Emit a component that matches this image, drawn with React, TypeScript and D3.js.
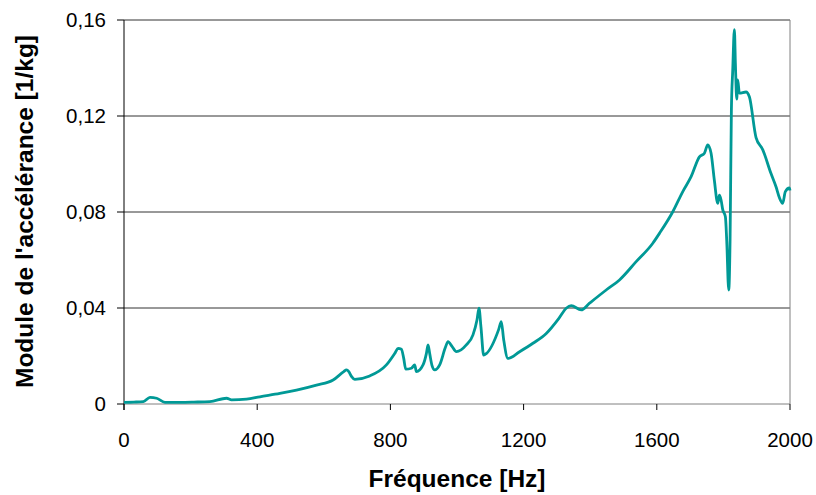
import React from "react";
import * as d3 from "d3";

const freqs = [0, 30, 58, 78, 98, 123, 168, 210, 258, 308, 323, 368, 408, 468, 518, 578, 628, 660, 668, 675, 683, 693, 738, 788, 815, 823, 833, 840, 846, 863, 873, 878, 898, 908, 913, 918, 925, 933, 948, 965, 973, 985, 998, 1028, 1048, 1060, 1066, 1072, 1080, 1088, 1125, 1133, 1140, 1153, 1188, 1228, 1268, 1306, 1328, 1343, 1373, 1398, 1448, 1488, 1538, 1588, 1608, 1648, 1678, 1703, 1728, 1743, 1753, 1763, 1773, 1783, 1788, 1793, 1798, 1806, 1810, 1816, 1820, 1824, 1828, 1833, 1836, 1840, 1843, 1848, 1868, 1878, 1898, 1918, 1943, 1958, 1968, 1978, 1986, 1998, 2000];
const accel = [0.0007, 0.0008, 0.001, 0.0028, 0.0024, 0.0007, 0.0007, 0.0008, 0.001, 0.0024, 0.0017, 0.002, 0.003, 0.0044, 0.0058, 0.0079, 0.01, 0.0135, 0.0142, 0.0135, 0.0115, 0.0103, 0.0117, 0.0163, 0.0215, 0.0232, 0.0228, 0.019, 0.0145, 0.0149, 0.0163, 0.0135, 0.0163, 0.021, 0.0246, 0.021, 0.016, 0.0142, 0.0163, 0.0235, 0.026, 0.024, 0.0218, 0.0246, 0.0288, 0.035, 0.0399, 0.032, 0.0204, 0.021, 0.031, 0.0343, 0.027, 0.019, 0.0218, 0.0253, 0.0294, 0.0357, 0.0399, 0.041, 0.0392, 0.042, 0.0475, 0.0517, 0.0593, 0.067, 0.0711, 0.0801, 0.0885, 0.0947, 0.103, 0.1045, 0.108, 0.1045, 0.093, 0.0836, 0.087, 0.085, 0.081, 0.078, 0.068, 0.0475, 0.068, 0.1225, 0.139, 0.156, 0.142, 0.127, 0.135, 0.1295, 0.13, 0.128, 0.111, 0.106, 0.096, 0.0905, 0.086, 0.0836, 0.0885, 0.09, 0.089];

const xTicks = [0, 400, 800, 1200, 1600, 2000];
const yTicks = [0, 0.04, 0.08, 0.12, 0.16];
const yTickLabels = ["0", "0,04", "0,08", "0,12", "0,16"];

export default function App() {
  const W = 816, H = 495;
  const left = 124, right = 790, top = 20, bottom = 404;
  const x = d3.scaleLinear().domain([0, 2000]).range([left, right]);
  const y = d3.scaleLinear().domain([0, 0.16]).range([bottom, top]);
  const data = freqs.map((f, i) => [f, accel[i]] as [number, number]);
  const line = d3.line<[number, number]>().x(d => x(d[0])).y(d => y(d[1])).curve(d3.curveMonotoneX);
  const font = "'Liberation Sans', Arial, sans-serif";
  return (
    <svg width={W} height={H} style={{ position: "absolute", left: 0, top: 0, background: "#fff" }}>
      {yTicks.slice(1).map(t => (
        <line key={t} x1={left} x2={right} y1={y(t)} y2={y(t)} stroke="#333" strokeWidth={1} />
      ))}
      <line x1={right} x2={right} y1={top} y2={bottom} stroke="#808080" strokeWidth={1} />
      <line x1={left} x2={right} y1={bottom} y2={bottom} stroke="#808080" strokeWidth={1} />
      <line x1={left} x2={left} y1={top} y2={bottom + 6} stroke="#000" strokeWidth={1} />
      {yTicks.map((t, i) => (
        <g key={t}>
          <line x1={left - 7} x2={left} y1={y(t)} y2={y(t)} stroke="#000" strokeWidth={1} />
          <text x={106} y={y(t)} dy="0.36em" textAnchor="end" fontFamily={font} fontSize={20.5} fill="#000">{yTickLabels[i]}</text>
        </g>
      ))}
      {xTicks.map(t => (
        <g key={t}>
          <line x1={x(t)} x2={x(t)} y1={bottom} y2={bottom + 6} stroke="#000" strokeWidth={1} />
          <text x={x(t)} y={447} textAnchor="middle" fontFamily={font} fontSize={20.5} fill="#000">{t}</text>
        </g>
      ))}
      <path d={line(data) || ""} fill="none" stroke="#009996" strokeWidth={2.8} strokeLinejoin="round" />
      <text x={457} y={487} textAnchor="middle" fontFamily={font} fontSize={24.5} fontWeight="bold" fill="#000">Fréquence [Hz]</text>
      <text transform={`translate(33,211.5) rotate(-90)`} textAnchor="middle" fontFamily={font} fontSize={24.5} fontWeight="bold" fill="#000">Module de l'accélérance [1/kg]</text>
    </svg>
  );
}
